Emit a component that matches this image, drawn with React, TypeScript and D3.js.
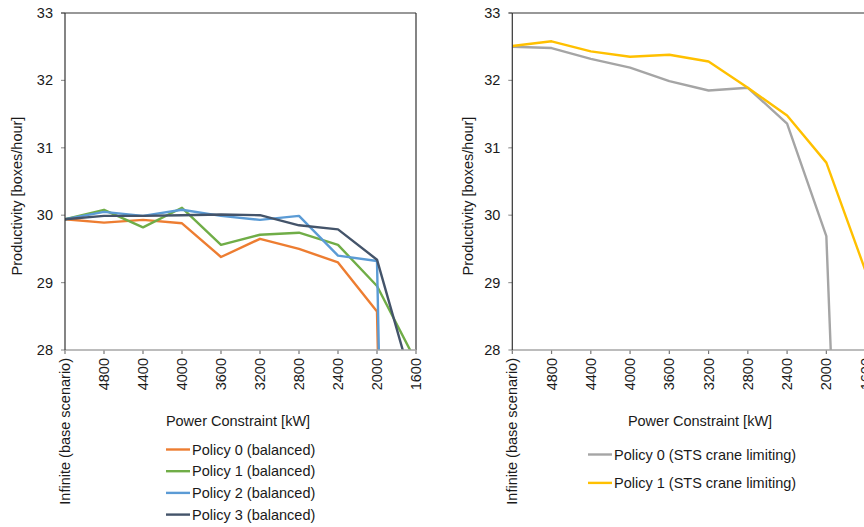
import React from "react";
import * as d3 from "d3";

// ---------- data ----------
const xTickValues = [5200, 4800, 4400, 4000, 3600, 3200, 2800, 2400, 2000, 1600];
const xTickLabels = ["Infinite (base scenario)", "4800", "4400", "4000", "3600", "3200", "2800", "2400", "2000", "1600"];
const yTicks = [28, 29, 30, 31, 32, 33];

const basePower = [5200, 4800, 4400, 4000, 3600, 3200, 2800, 2400, 2000];

const balancedP0X = [...basePower, 1990];
const balancedP0Y = [29.94, 29.89, 29.93, 29.88, 29.38, 29.65, 29.5, 29.3, 28.57, 27.9];
const balancedP1X = [...basePower, 1600];
const balancedP1Y = [29.94, 30.08, 29.82, 30.11, 29.56, 29.71, 29.74, 29.56, 28.95, 27.83];
const balancedP2X = [...basePower, 1980];
const balancedP2Y = [29.94, 30.05, 29.99, 30.08, 29.99, 29.93, 29.99, 29.4, 29.32, 27.9];
const balancedP3X = [...basePower, 1600];
const balancedP3Y = [29.94, 29.99, 29.99, 30.0, 30.01, 30.0, 29.85, 29.79, 29.34, 27.31];

const stsP0X = [...basePower, 1950];
const stsP0Y = [32.5, 32.48, 32.32, 32.19, 31.99, 31.85, 31.89, 31.36, 29.69, 27.8];
const stsP1X = [...basePower, 1600];
const stsP1Y = [32.51, 32.58, 32.43, 32.35, 32.38, 32.28, 31.89, 31.48, 30.78, 29.17];

const leftSeries = [
  { name: "Policy 0 (balanced)", xs: balancedP0X, ys: balancedP0Y, color: "#ED7D31" },
  { name: "Policy 1 (balanced)", xs: balancedP1X, ys: balancedP1Y, color: "#70AD47" },
  { name: "Policy 2 (balanced)", xs: balancedP2X, ys: balancedP2Y, color: "#5B9BD5" },
  { name: "Policy 3 (balanced)", xs: balancedP3X, ys: balancedP3Y, color: "#44546A" },
];
const rightSeries = [
  { name: "Policy 0 (STS crane limiting)", xs: stsP0X, ys: stsP0Y, color: "#A5A5A5" },
  { name: "Policy 1 (STS crane limiting)", xs: stsP1X, ys: stsP1Y, color: "#FFC000" },
];

const FONT = "'Liberation Sans', Arial, Helvetica, sans-serif";
const TEXT = "#1a1a1a";

type Series = { name: string; xs: number[]; ys: number[]; color: string };

function Panel(props: {
  id: string;
  x0: number;
  x1: number;
  series: Series[];
  rightBorder: boolean;
  yTitleX: number;
  xTitleX: number;
  legendX: number;
  legendY: number;
  legendStep: number;
}) {
  const { id, x0, x1, series } = props;
  const top = 13;
  const bottom = 350;
  const x = d3.scaleLinear().domain([5200, 1600]).range([x0, x1]);
  const y = d3.scaleLinear().domain([28, 33]).range([bottom, top]);
  const line = d3
    .line<[number, number]>()
    .x((d) => x(d[0]))
    .y((d) => y(d[1]));

  return (
    <g>
      <defs>
        <clipPath id={id}>
          <rect x={x0} y={top} width={x1 - x0} height={bottom - top} />
        </clipPath>
      </defs>
      {/* frame */}
      <line x1={x0} x2={x1} y1={top} y2={top} stroke="#333" strokeWidth={1.2} />
      {props.rightBorder && <line x1={x1} x2={x1} y1={top} y2={bottom} stroke="#333" strokeWidth={1.2} />}
      {/* y ticks */}
      {yTicks.map((t) => (
        <g key={t}>
          <line x1={x0 - 4} x2={x0} y1={y(t)} y2={y(t)} stroke={t === 33 ? "#333" : "#999"} strokeWidth={1.2} />
          <text
            x={x0 - 12}
            y={y(t)}
            textAnchor="end"
            dominantBaseline="central"
            fontFamily={FONT}
            fontSize={14.5}
            fill={TEXT}
          >
            {t}
          </text>
        </g>
      ))}
      {/* x ticks */}
      {xTickValues.map((v, i) => (
        <g key={v}>
          <line x1={x(v)} x2={x(v)} y1={bottom} y2={bottom + 4} stroke="#777" strokeWidth={1.2} />
          <text
            transform={`translate(${x(v)},${bottom + 8}) rotate(-90)`}
            textAnchor="end"
            dominantBaseline="central"
            fontFamily={FONT}
            fontSize={14.5}
            fill={TEXT}
          >
            {xTickLabels[i]}
          </text>
        </g>
      ))}
      {/* lines */}
      <g clipPath={`url(#${id})`}>
        {series.map((s) => (
          <path
            key={s.name}
            d={line(s.xs.map((xv, i) => [xv, s.ys[i]] as [number, number])) || ""}
            fill="none"
            stroke={s.color}
            strokeWidth={2.4}
            strokeLinejoin="round"
          />
        ))}
      </g>
      {/* axes lines */}
      <line x1={x0} x2={x1} y1={bottom} y2={bottom} stroke="#a6a6a6" strokeWidth={1.3} />
      <line x1={x0} x2={x0} y1={top} y2={bottom} stroke="#333" strokeWidth={1.2} />
      {/* titles */}
      <text
        transform={`translate(${props.yTitleX},196) rotate(-90)`}
        textAnchor="middle"
        dominantBaseline="central"
        fontFamily={FONT}
        fontSize={14.5}
        fill={TEXT}
      >
        Productivity [boxes/hour]
      </text>
      <text
        x={props.xTitleX}
        y={421}
        textAnchor="middle"
        dominantBaseline="central"
        fontFamily={FONT}
        fontSize={14.5}
        fill={TEXT}
      >
        Power Constraint [kW]
      </text>
      {/* legend */}
      {series.map((s, i) => {
        const ly = props.legendY + i * props.legendStep;
        return (
          <g key={s.name}>
            <line x1={props.legendX} x2={props.legendX + 24} y1={ly} y2={ly} stroke={s.color} strokeWidth={2.4} />
            <text
              x={props.legendX + 26}
              y={ly}
              dominantBaseline="central"
              fontFamily={FONT}
              fontSize={14.5}
              fill={TEXT}
            >
              {s.name}
            </text>
          </g>
        );
      })}
    </g>
  );
}

export default function App() {
  return (
    <svg
      width={864}
      height={527}
      style={{ position: "absolute", left: 0, top: 0, display: "block", background: "#fff" }}
    >
      <rect x={0} y={0} width={864} height={527} fill="#fff" />
      <Panel
        id="clipL"
        x0={65}
        x1={416}
        series={leftSeries}
        rightBorder={true}
        yTitleX={17}
        xTitleX={238}
        legendX={166}
        legendY={449.5}
        legendStep={21.7}
      />
      <Panel
        id="clipR"
        x0={512.3}
        x1={865.6}
        series={rightSeries}
        rightBorder={true}
        yTitleX={468}
        xTitleX={700}
        legendX={588}
        legendY={454.5}
        legendStep={28.4}
      />
    </svg>
  );
}
